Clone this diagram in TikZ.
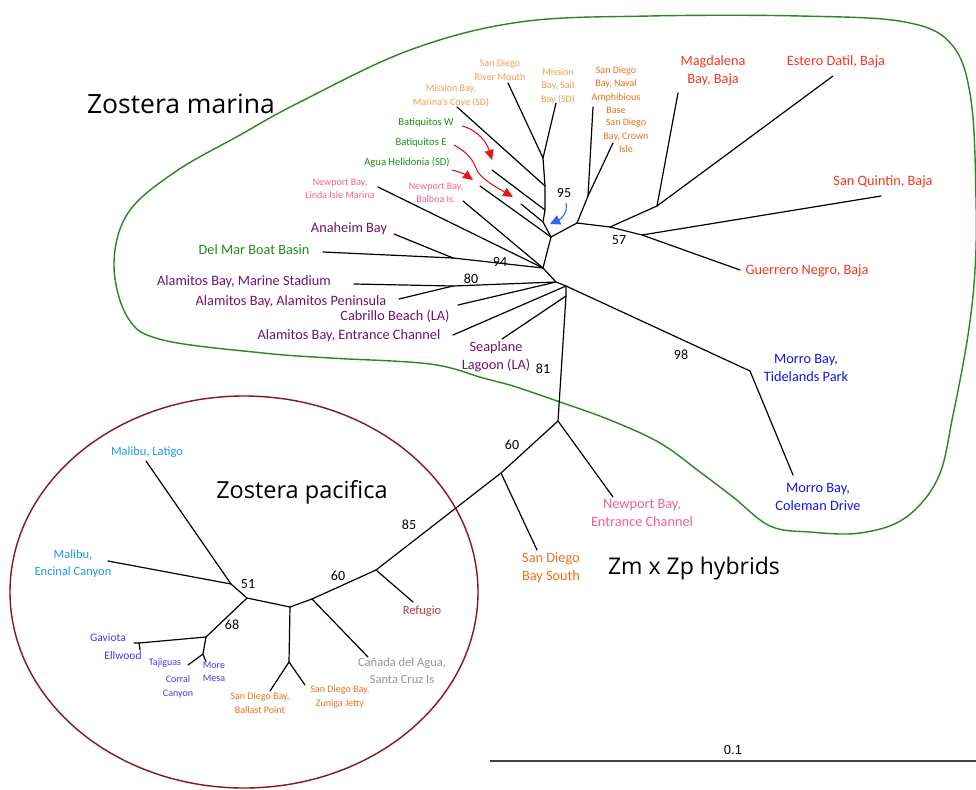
\documentclass[tikz,border=0pt]{standalone}
\usepackage{fontspec}
\setmainfont{Carlito}
\newfontfamily\titlefont{Open Sans}
\newfontfamily\arialfont{Liberation Sans}
\usetikzlibrary{arrows.meta}
\definecolor{lorange}{RGB}{247,155,75}
\definecolor{dorange}{RGB}{240,110,30}
\definecolor{mgreen}{RGB}{30,140,30}
\definecolor{mpink}{RGB}{245,95,150}
\definecolor{mpurple}{RGB}{110,20,110}
\definecolor{mred}{RGB}{245,55,30}
\definecolor{mblue}{RGB}{20,20,230}
\definecolor{skyb}{RGB}{30,150,240}
\definecolor{violetb}{RGB}{60,60,240}
\definecolor{rbrown}{RGB}{190,60,60}
\definecolor{mgray}{RGB}{150,150,150}
\definecolor{dred}{RGB}{140,20,20}
\definecolor{encgreen}{RGB}{40,135,30}
\definecolor{arrblue}{RGB}{50,100,245}
\definecolor{arrred}{RGB}{235,20,20}
\tikzset{
  lab/.style={inner sep=0pt, align=center, font=\fontsize{14.3}{18}\selectfont},
  smalllab/.style={inner sep=0pt, align=center, font=\fontsize{10}{13.5}\selectfont},
  greenlab/.style={inner sep=0pt, align=center, text=mgreen, font=\fontsize{10.6}{13.5}\selectfont},
  midlab/.style={inner sep=0pt, align=center, font=\fontsize{12.5}{17}\selectfont},
  boot/.style={inner sep=0pt, font=\fontsize{14}{16}\selectfont},
  ttl/.style={inner sep=0pt, font=\titlefont\fontsize{25}{30}\selectfont},
  br/.style={line width=1.2pt, black, line cap=round, line join=round},
  redarr/.style={arrred, line width=1.1pt, -{Triangle[length=10pt,width=9pt]}},
  bluearr/.style={arrblue, line width=1.1pt, -{Triangle[length=10pt,width=10pt]}}
}
\begin{document}
\begin{tikzpicture}[x=1pt,y=-1pt]
\useasboundingbox (0,0) rectangle (976,789);
\fill[white] (0,0) rectangle (976,789);

% enclosures
\draw[encgreen, line width=1.4pt] plot[smooth cycle, tension=0.6] coordinates {
 (300,102) (410,50) (520,22) (650,16) (800,16) (905,22) (952,45) (971,100)
 (976,200) (975,270) (968,335) (953,415) (938,478) (905,518) (860,533)
 (810,532) (770,526) (733,497) (700,472) (660,443) (610,420) (560,402)
 (510,385) (483,378) (430,364) (330,358) (263,353) (163,340) (128,318)
 (114,265) (128,213) (175,172) (240,135)};
\draw[dred, line width=1.4pt] (244,592) ellipse [x radius=234, y radius=196];

% tree nodes
\coordinate (N1) at (543,158);
\coordinate (N2) at (545,186);
\coordinate (N3) at (545,210);
\coordinate (N4) at (543,222);
\coordinate (N95) at (551,237);
\coordinate (R1) at (577,223);
\coordinate (R2) at (588,196);
\coordinate (R3) at (610,227);
\coordinate (R4) at (657,206);
\coordinate (R5) at (642,235);
\coordinate (Ha) at (543,268);
\coordinate (Hb) at (556,282);
\coordinate (Hc) at (566,286);
\coordinate (Hd) at (566,296);
\coordinate (N94) at (453,258);
\coordinate (N80) at (453,286);
\coordinate (M1) at (750,371);
\coordinate (P1) at (558,421);
\coordinate (P2) at (501,473);
\coordinate (P3) at (376,570);
\coordinate (P4) at (312,599);
\coordinate (P5) at (290,607);
\coordinate (P6) at (289,662);
\coordinate (P7) at (247,598);
\coordinate (P8) at (231,584);
\coordinate (P9) at (206,637);
\coordinate (P10) at (139,643);
\coordinate (P11) at (203,654);

% leaf tips
\coordinate (tLinda) at (378,187);
\coordinate (tBalboa) at (463,201);
\coordinate (tAgua) at (480,186);
\coordinate (tBatE) at (521,204);
\coordinate (tBatW) at (492,170);
\coordinate (tCove) at (457,107);
\coordinate (tRiver) at (508,83);
\coordinate (tSail) at (556,103);
\coordinate (tNaval) at (593,107);
\coordinate (tCrown) at (613,143);
\coordinate (tMagd) at (678,93);
\coordinate (tEstero) at (833,76);
\coordinate (tQuintin) at (881,196);
\coordinate (tGuerrero) at (740,270);
\coordinate (tAnaheim) at (394,234);
\coordinate (tDelMar) at (323,252);
\coordinate (tStadium) at (354,284);
\coordinate (tPenin) at (399,299);
\coordinate (tCabrillo) at (458,305);
\coordinate (tAlEntr) at (453,335);
\coordinate (tSeaplane) at (502,339);
\coordinate (tColeman) at (793,475);
\coordinate (tNpEntr) at (613,497);
\coordinate (tSDSouth) at (537,550);
\coordinate (tRefugio) at (413,602);
\coordinate (tCanada) at (368,657);
\coordinate (tBallast) at (270,691);
\coordinate (tZuniga) at (305,685);
\coordinate (tLatigo) at (146,461);
\coordinate (tEncinal) at (108,561);
\coordinate (tGaviota) at (134,643);
\coordinate (tEllwood) at (140,650);
\coordinate (tTajiguas) at (188,665);
\coordinate (tMesa) at (206,662);

% branches
\draw[br] (tRiver) -- (N1) -- (tSail);
\draw[br] (N1) -- (N2) -- (N3) -- (N4) -- (N95);
\draw[br] (tCove) -- (N2);
\draw[br] (tBatW) -- (N3);
\draw[br] (tBatE) -- (N4);
\draw[br] (tAgua) -- (N95);
\draw[br] (N95) -- (R1) -- (R3);
\draw[br] (R1) -- (R2) -- (tCrown);
\draw[br] (R2) -- (tNaval);
\draw[br] (R3) -- (R4) -- (tMagd);
\draw[br] (R4) -- (tEstero);
\draw[br] (R3) -- (R5) -- (tQuintin);
\draw[br] (R5) -- (tGuerrero);
\draw[br] (N95) -- (Ha);
\draw[br] (tLinda) -- (Ha);
\draw[br] (tBalboa) -- (Ha);
\draw[br] (tAnaheim) -- (N94) -- (Ha);
\draw[br] (tDelMar) -- (N94);
\draw[br] (Ha) -- (Hb) -- (Hc) -- (Hd);
\draw[br] (tStadium) -- (N80) -- (Hb);
\draw[br] (tPenin) -- (N80);
\draw[br] (tCabrillo) -- (Hb);
\draw[br] (tAlEntr) -- (Hc);
\draw[br] (Hc) -- (M1) -- (tColeman);
\draw[br] (tSeaplane) -- (Hd) -- (P1);
\draw[br] (P1) -- (tNpEntr);
\draw[br] (P1) -- (P2) -- (tSDSouth);
\draw[br] (P2) -- (P3) -- (tRefugio);
\draw[br] (P3) -- (P4) -- (tCanada);
\draw[br] (P4) -- (P5) -- (P6) -- (tBallast);
\draw[br] (P6) -- (tZuniga);
\draw[br] (P5) -- (P7) -- (P8) -- (tLatigo);
\draw[br] (P8) -- (tEncinal);
\draw[br] (P7) -- (P9) -- (P10) -- (tGaviota);
\draw[br] (P10) -- (tEllwood);
\draw[br] (P9) -- (P11) -- (tTajiguas);
\draw[br] (P11) -- (tMesa);

% bootstrap values
\node[boot] (b95) at (564,193) {95};
\node[boot] (b57) at (619,240) {57};
\node[boot] (b94) at (500,262) {94};
\node[boot] (b80) at (471,279) {80};
\node[boot] (b81) at (543,369) {81};
\node[boot] (b98) at (681,355) {98};
\node[boot] (b60a) at (512,445) {60};
\node[boot] (b85) at (409,525) {85};
\node[boot] (b60b) at (338,576) {60};
\node[boot] (b51) at (248,584) {51};
\node[boot] (b68) at (232,625) {68};

% labels, upper cluster
\node[smalllab, text=lorange] (lRiver) at (500,70) {San Diego\\River Mouth};
\node[smalllab, text=lorange] (lCove) at (451,96) {Mission Bay,\\Marina’s Cove (SD)};
\node[smalllab, text=lorange] (lSail) at (558,86) {Mission\\Bay, Sail\\Bay (SD)};
\node[smalllab, text=dorange] (lNaval) at (616,90) {San Diego\\Bay, Naval\\Amphibious\\Base};
\node[smalllab, text=dorange] (lCrown) at (626,136) {San Diego\\Bay, Crown\\Isle};
\node[greenlab] (lBatW) at (426,123) {Batiquitos W};
\node[greenlab] (lBatE) at (421,143) {Batiquitos E};
\node[greenlab] (lAgua) at (407,163) {Agua Helidonia (SD)};
\node[smalllab, text=mpink] (lLinda) at (340,189) {Newport Bay,\\Linda Isle Marina};
\node[smalllab, text=mpink] (lBalboa) at (436,193) {Newport Bay,\\Balboa Is.};

% Baja
\node[lab, text=mred] (lMagd) at (713,71) {Magdalena\\Bay, Baja};
\node[lab, text=mred] (lEstero) at (836,62) {Estero Datil, Baja};
\node[lab, text=mred] (lQuintin) at (883,182) {San Quintin, Baja};
\node[lab, text=mred] (lGuerrero) at (807,271) {Guerrero Negro, Baja};

% purple / green mid labels
\node[lab, text=mpurple] (lAnaheim) at (349,229) {Anaheim Bay};
\node[lab, text=mgreen] (lDelMar) at (254,250) {Del Mar Boat Basin};
\node[lab, text=mpurple] (lStadium) at (244,282) {Alamitos Bay, Marine Stadium};
\node[lab, text=mpurple] (lPenin) at (291,302) {Alamitos Bay, Alamitos Peninsula};
\node[lab, text=mpurple] (lCabrillo) at (395,316) {Cabrillo Beach (LA)};
\node[lab, text=mpurple] (lAlEntr) at (349,336) {Alamitos Bay, Entrance Channel};
\node[lab, text=mpurple] (lSeaplane) at (496,357) {Seaplane\\Lagoon (LA)};

% Morro
\node[lab, text=mblue] (lTide) at (806,368) {Morro Bay,\\Tidelands Park};
\node[lab, text=mblue] (lColeman) at (818,497) {Morro Bay,\\Coleman Drive};

% hybrids
\node[lab, text=mpink] (lNpEntr) at (642,513) {Newport Bay,\\Entrance Channel};
\node[lab, text=dorange] (lSDSouth) at (551,568) {San Diego\\Bay South};

% pacifica
\node[midlab, text=skyb] (lLatigo) at (147,452) {Malibu, Latigo};
\node[midlab, text=skyb] (lEncinal) at (73,564) {Malibu,\\Encinal Canyon};
\node[midlab, text=rbrown] (lRefugio) at (422,611) {Refugio};
\node[midlab, text=mgray] (lCanada) at (402,671) {Cañada del Agua,\\Santa Cruz Is};
\node[smalllab, text=dorange] (lBallast) at (260,703) {San Diego Bay,\\Ballast Point};
\node[smalllab, text=dorange] (lZuniga) at (340,697) {San Diego Bay,\\Zuniga Jetty};
\node[inner sep=0pt, font=\fontsize{11.5}{14}\selectfont, text=violetb] (lGaviota) at (108,638) {Gaviota};
\node[inner sep=0pt, font=\fontsize{11.5}{14}\selectfont, text=violetb] (lEllwood) at (123,656) {Ellwood};
\node[smalllab, text=violetb] (lTajiguas) at (165,663) {Tajiguas};
\node[smalllab, text=violetb] (lCorral) at (178,687) {Corral\\Canyon};
\node[smalllab, text=violetb] (lMesa) at (214,672) {More\\Mesa};

% titles
\node[ttl, font=\titlefont\fontsize{26.5}{30}\selectfont] (tMarina) at (181,104) {Zostera marina};
\node[ttl, font=\titlefont\fontsize{23.5}{28}\selectfont] (tPacifica) at (302,492) {Zostera pacifica};
\node[ttl, font=\titlefont\fontsize{23}{28}\selectfont] (tHybrid) at (694,569) {Zm x Zp hybrids};

% arrows
\draw[redarr] (462,126) .. controls (478,130) and (487,143) .. (492,160);
\draw[redarr] (454,145) .. controls (467,152) and (473,160) .. (476,168) .. controls (479,178) and (496,187) .. (513,197);
\draw[redarr] (452,170) .. controls (460,172) and (466,175) .. (473,180);
\draw[bluearr] (566,203) .. controls (568,213) and (561,219) .. (550,224);

% scale bar
\coordinate (sL) at (490,761);
\coordinate (sR) at (976,761);
\draw[line width=1.6pt, black!75] (sL) -- (sR);
\node[inner sep=0pt, font=\arialfont\fontsize{13}{15}\selectfont] (sLab) at (733,750) {0.1};
\end{tikzpicture}
\end{document}
